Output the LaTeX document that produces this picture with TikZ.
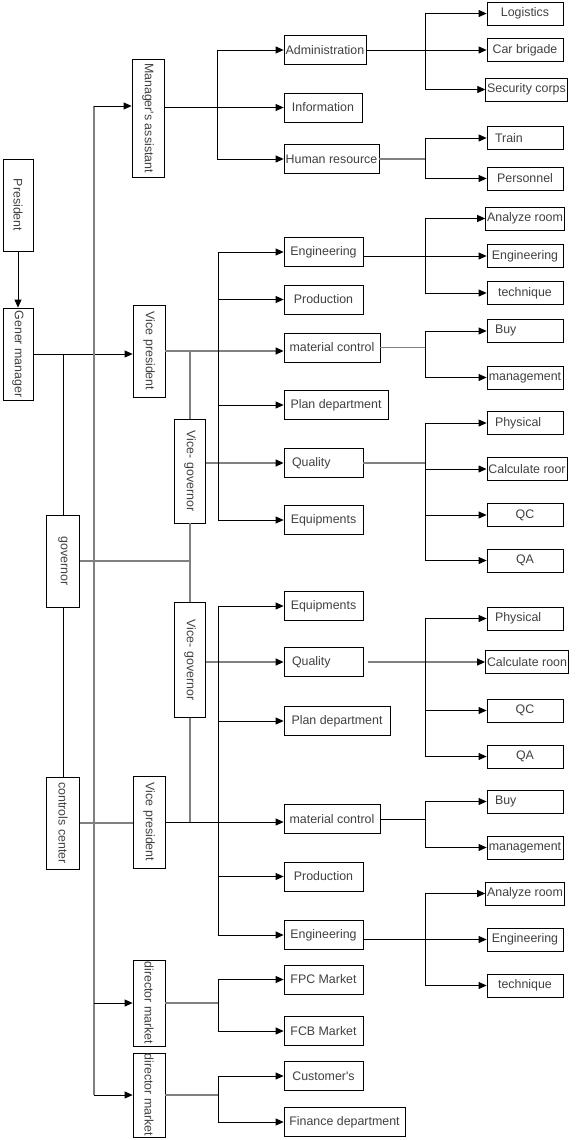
\documentclass[tikz,border=0pt]{standalone}
\usepackage{fontspec}
\setmainfont{Liberation Sans}
\usetikzlibrary{arrows.meta}
\usetikzlibrary{positioning}

\tikzset{
  box/.style={draw, line width=0.8pt, inner xsep=1.5pt, inner ysep=0pt,
    text=black!75, font=\fontsize{12.4}{14}\selectfont},
  hbox/.style={box, minimum width=#1, minimum height=29pt},
  sbox/.style={box, minimum width=#1, minimum height=23pt},
  vbox/.style={box, minimum width=#1},
  ltext/.style={text width=#1, align=left},
  link/.style={line width=0.8pt},
  glink/.style={line width=1.3pt, black!50},
  arr/.style={link, -{Triangle[length=8pt,width=7pt]}},
  garr/.style={glink, -{Triangle[length=8pt,width=7pt,color=black]}},
}

\begin{document}
\begin{tikzpicture}[x=1pt, y=-1pt]
  \useasboundingbox (0,0) rectangle (576,1140);

  % vertical boxes
  \node[vbox=30pt, minimum height=92pt] (pres) at (18,205) {\rotatebox{-90}{President}};
  \node[vbox=30pt, minimum height=92pt] (gm) at (18,354) {\rotatebox{-90}{Gener manager}};
  \node[vbox=32pt, minimum height=118pt] (ma) at (148,118) {\rotatebox{-90}{Manager\textquotesingle s assistant}};
  \node[vbox=32pt, minimum height=92pt] (vp1) at (149,351) {\rotatebox{-90}{Vice president}};
  \node[vbox=31pt, minimum height=104pt] (vg1) at (190,471) {\rotatebox{-90}{Vice- governor}};
  \node[vbox=33pt, minimum height=92pt] (gov) at (63,561) {\rotatebox{-90}{governor}};
  \node[vbox=31pt, minimum height=115pt] (vg2) at (190,660) {\rotatebox{-90}{Vice- governor}};
  \node[vbox=33pt, minimum height=92pt] (cc) at (63,823) {\rotatebox{-90}{controls center}};
  \node[vbox=32pt, minimum height=92pt] (vp2) at (149,822) {\rotatebox{-90}{Vice president}};
  \node[vbox=32pt, minimum height=86pt] (dm1) at (149,1003) {\rotatebox{-90}{director market}};
  \node[vbox=32pt, minimum height=84pt] (dm2) at (149,1095) {\rotatebox{-90}{director market}};

  % departments
  \node[hbox=82pt] (adm) at (325,50) {Administration};
  \node[hbox=78pt] (info) at (323,107.5) {Information};
  \node[hbox=95pt] (hr) at (331.5,159) {Human resource};

  \node[hbox=79pt] (eng1) at (323.5,252) {Engineering};
  \node[hbox=79pt] (prod1) at (323.5,299.5) {Production};
  \node[hbox=96pt] (mc1) at (332,347.5) {material control};
  \node[hbox=104pt] (plan1) at (336,405) {Plan department};
  \node[hbox=79pt, ltext=63pt] (q1) at (323.5,463) {Quality};
  \node[hbox=79pt] (eq1) at (323.5,520) {Equipments};

  \node[hbox=79pt] (eq2) at (323.5,606) {Equipments};
  \node[hbox=79pt, ltext=63pt] (q2) at (323.5,662) {Quality};
  \node[hbox=106pt] (plan2) at (337,721) {Plan department};
  \node[hbox=96pt] (mc2) at (332,819) {material control};
  \node[hbox=79pt] (prod2) at (323.5,876.5) {Production};
  \node[hbox=79pt] (eng2) at (323.5,935) {Engineering};
  \node[hbox=79pt] (fpc) at (323.5,979.5) {FPC Market};
  \node[hbox=79pt] (fcb) at (323.5,1031) {FCB Market};
  \node[hbox=79pt] (cust) at (323.5,1076) {Customer\textquotesingle s};
  \node[hbox=121pt] (fin) at (344.5,1122) {Finance department};

  % sections
  \node[sbox=76pt] (log) at (525,13.5) {Logistics};
  \node[sbox=76pt] (carb) at (525,50) {Car brigade};
  \node[sbox=79pt] (sec) at (526.5,89.5) {Security corps};
  \node[sbox=76pt, ltext=60pt] (train) at (525,138) {Train};
  \node[sbox=76pt] (pers) at (525,178.5) {Personnel};

  \node[sbox=76pt] (ana1) at (525,218.5) {Analyze room};
  \node[sbox=76pt] (engr1) at (525,256) {Engineering};
  \node[sbox=76pt] (tech1) at (525,293) {technique};
  \node[sbox=76pt, ltext=60pt] (buy1) at (525,331) {Buy};
  \node[sbox=76pt] (mgmt1) at (525,377.5) {management};
  \node[sbox=76pt, ltext=60pt] (phy1) at (525,423) {Physical};
  \node[sbox=80pt] (calc1) at (527,469) {Calculate roor};
  \node[sbox=76pt] (qc1) at (525,515) {QC};
  \node[sbox=76pt] (qa1) at (525,560.5) {QA};

  \node[sbox=76pt, ltext=60pt] (phy2) at (525,618.5) {Physical};
  \node[sbox=80pt] (calc2) at (527,662) {Calculate roon};
  \node[sbox=76pt] (qc2) at (525,710.5) {QC};
  \node[sbox=76pt] (qa2) at (525,756.5) {QA};
  \node[sbox=76pt, ltext=60pt] (buy2) at (525,801.5) {Buy};
  \node[sbox=76pt] (mgmt2) at (525,847.5) {management};
  \node[sbox=76pt] (ana2) at (525,893.5) {Analyze room};
  \node[sbox=76pt] (engr2) at (525,939.5) {Engineering};
  \node[sbox=76pt] (tech2) at (525,985.5) {technique};

  \coordinate (trunk) at (94,354);
  \coordinate (busM) at (217,0);
  \coordinate (busA) at (218,0);
  \coordinate (busR) at (425,0);
  \coordinate (maIn) at ([yshift=12pt]ma.west);

  % top of the chart
  \draw[arr] (pres) -- (gm);
  \draw[arr] (gm.east) -- (gm.east -| vp1.west);
  \draw[link] (gov.north |- gm.east) -- (gov.north);
  \draw[link] (gov) -- (cc);

  % trunk
  \draw[glink] (maIn -| trunk) -- (dm2.west -| trunk);
  \draw[arr] (maIn -| trunk) -- (maIn);
  \draw[arr] (dm1.west -| trunk) -- (dm1.west);
  \draw[arr] (dm2.west -| trunk) -- (dm2.west);

  % manager's assistant
  \draw[arr] (info.west -| ma.east) -- (info.west);
  \draw[link] (adm.west -| busM) -- (hr.west -| busM);
  \draw[arr] (adm.west -| busM) -- (adm.west);
  \draw[arr] (hr.west -| busM) -- (hr.west);
  \draw[arr] (adm.east) -- (adm.east -| carb.west);
  \draw[link] (log.west -| busR) -- (sec.west -| busR);
  \draw[arr] (log.west -| busR) -- (log.west);
  \draw[arr] (sec.west -| busR) -- (sec.west);
  \draw[glink] (hr.east) -- (hr.east -| busR);
  \draw[link] (train.west -| busR) -- (pers.west -| busR);
  \draw[arr] (train.west -| busR) -- (train.west);
  \draw[arr] (pers.west -| busR) -- (pers.west);

  % governor spine
  \draw[glink] (gov.east) -- (gov.east -| vg1.south);
  \draw[glink] (vg1.north) -- (vg1.north |- vp1.east);
  \draw[glink] (vg1.south) -- (vg2.north);
  \draw[glink] (vg2.south) -- (vg2.south |- vp2.east);
  \draw[glink] (cc.east) -- (cc.east -| vp2.west);

  % first vice president
  \draw[garr] (vp1.east) -- (vp1.east -| mc1.west);
  \draw[garr] (q1.west -| vg1.east) -- (q1.west);
  \draw[link] (eng1.west -| busA) -- (eq1.west -| busA);
  \draw[arr] (eng1.west -| busA) -- (eng1.west);
  \draw[arr] (prod1.west -| busA) -- (prod1.west);
  \draw[arr] (plan1.west -| busA) -- (plan1.west);
  \draw[arr] (eq1.west -| busA) -- (eq1.west);

  \draw[arr] (engr1.west -| eng1.east) -- (engr1.west);
  \draw[link] (ana1.west -| busR) -- (tech1.west -| busR);
  \draw[arr] (ana1.west -| busR) -- (ana1.west);
  \draw[arr] (tech1.west -| busR) -- (tech1.west);
  \draw[glink] (mc1.east) -- (mc1.east -| busR);
  \draw[link] (buy1.west -| busR) -- (mgmt1.west -| busR);
  \draw[arr] (buy1.west -| busR) -- (buy1.west);
  \draw[arr] (mgmt1.west -| busR) -- (mgmt1.west);
  \draw[glink] (q1.east) -- (q1.east -| busR);
  \draw[link] (phy1.west -| busR) -- (qa1.west -| busR);
  \draw[arr] (phy1.west -| busR) -- (phy1.west);
  \draw[arr] (calc1.west -| busR) -- (calc1.west);
  \draw[arr] (qc1.west -| busR) -- (qc1.west);
  \draw[arr] (qa1.west -| busR) -- (qa1.west);

  % second vice president
  \draw[arr] (vp2.east) -- (vp2.east -| mc2.west);
  \draw[garr] (q2.west -| vg2.east) -- (q2.west);
  \draw[link] (eq2.west -| busA) -- (eng2.west -| busA);
  \draw[arr] (eq2.west -| busA) -- (eq2.west);
  \draw[arr] (plan2.west -| busA) -- (plan2.west);
  \draw[arr] (prod2.west -| busA) -- (prod2.west);
  \draw[arr] (eng2.west -| busA) -- (eng2.west);

  \draw[garr] ([xshift=5pt]q2.east) -- (q2.east -| calc2.west);
  \draw[link] (phy2.west -| busR) -- (qa2.west -| busR);
  \draw[arr] (phy2.west -| busR) -- (phy2.west);
  \draw[arr] (qc2.west -| busR) -- (qc2.west);
  \draw[arr] (qa2.west -| busR) -- (qa2.west);
  \draw[link] (mc2.east) -- (mc2.east -| busR);
  \draw[link] (buy2.west -| busR) -- (mgmt2.west -| busR);
  \draw[arr] (buy2.west -| busR) -- (buy2.west);
  \draw[arr] (mgmt2.west -| busR) -- (mgmt2.west);
  \draw[arr] (engr2.west -| eng2.east) -- (engr2.west);
  \draw[link] (ana2.west -| busR) -- (tech2.west -| busR);
  \draw[arr] (ana2.west -| busR) -- (ana2.west);
  \draw[arr] (tech2.west -| busR) -- (tech2.west);

  % markets
  \draw[glink] (dm1.east) -- (dm1.east -| busA);
  \draw[link] (fpc.west -| busA) -- (fcb.west -| busA);
  \draw[arr] (fpc.west -| busA) -- (fpc.west);
  \draw[arr] (fcb.west -| busA) -- (fcb.west);
  \draw[glink] (dm2.east) -- (dm2.east -| busA);
  \draw[link] (cust.west -| busA) -- (fin.west -| busA);
  \draw[arr] (cust.west -| busA) -- (cust.west);
  \draw[arr] (fin.west -| busA) -- (fin.west);
\end{tikzpicture}
\end{document}
